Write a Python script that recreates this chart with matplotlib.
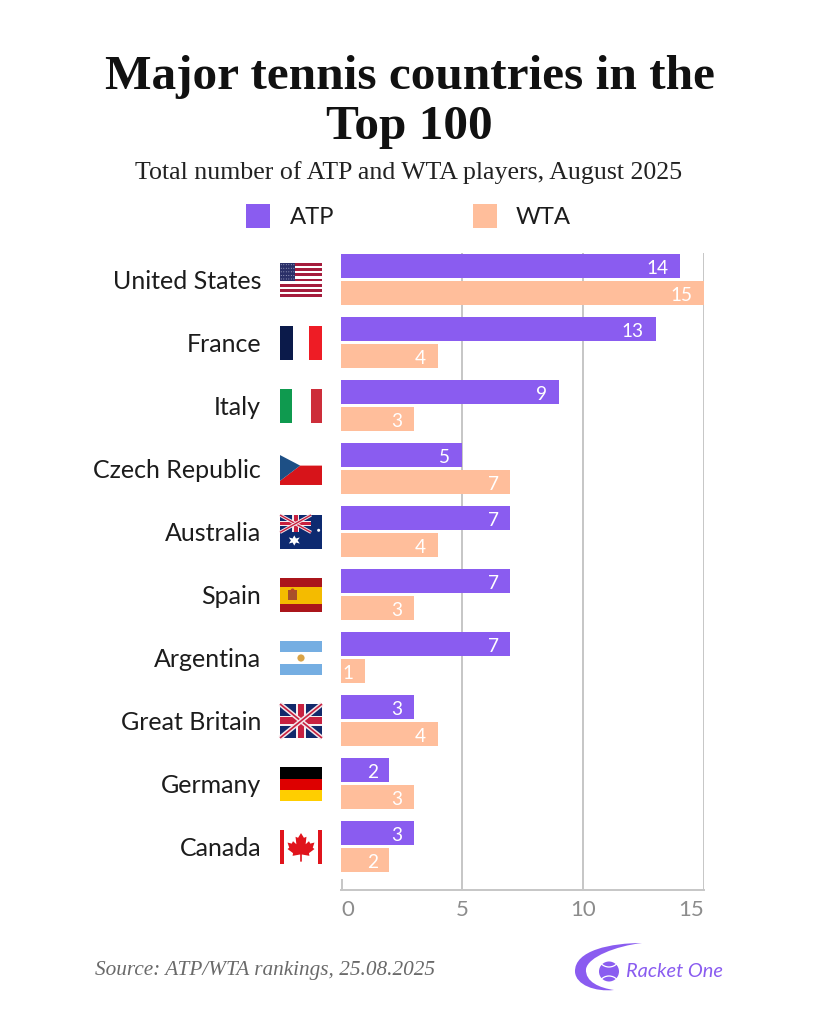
import matplotlib
matplotlib.use("Agg")
import matplotlib.pyplot as plt
from matplotlib.patches import Polygon, Rectangle, Circle, PathPatch, Arc
from matplotlib.path import Path
import numpy as np

countries = ["United States", "France", "Italy", "Czech Republic", "Australia",
             "Spain", "Argentina", "Great Britain", "Germany", "Canada"]
atp = [14, 13, 9, 5, 7, 7, 7, 3, 2, 3]
wta = [15, 4, 3, 7, 4, 3, 1, 4, 3, 2]
x_ticks = [0, 5, 10, 15]

atp_color = "#8a5cf0"
wta_color = "#ffbe9b"
text_color = "#1c1c1c"
line_color = "#c6c6c6"
W, H = 819, 1024
sans = "Lato"
serif = "Liberation Serif"


def add_chart(fig):
    # axes box in pixels: x 341-704, y 253-890
    ax = fig.add_axes([341 / W, 1 - 890 / H, 363 / W, 637 / H])
    y = np.arange(len(countries))
    ax.barh(y - 0.214, atp, height=0.385, color=atp_color, zorder=3)
    ax.barh(y + 0.214, wta, height=0.385, color=wta_color, zorder=3)
    ax.set_xlim(0, 15)
    ax.set_ylim(9.69, -0.42)
    ax.grid(axis="y", visible=False)
    ax.grid(axis="x", color=line_color, lw=1.4, zorder=1)
    ax.set_axisbelow(True)
    for s in ax.spines.values():
        s.set_visible(False)
    ax.spines["bottom"].set_visible(True)
    ax.spines["bottom"].set_color(line_color)
    ax.spines["bottom"].set_linewidth(1.4)
    ax.set_yticks(y)
    ax.set_yticklabels(countries, fontsize=18, color=text_color, family=sans)
    ax.tick_params(axis="y", length=0, pad=57.5)
    ax.set_xticks(x_ticks)
    ax.set_xticklabels([str(t) for t in x_ticks], fontsize=16, color="#8c8c8c", family=sans)
    ax.tick_params(axis="x", length=0, pad=7)
    ax.get_xgridlines()[0].set_visible(False)
    labels = ax.get_xticklabels()
    labels[0].set_ha("left")
    labels[-1].set_ha("right")

    for i in range(len(countries)):
        for vals, off in ((atp, -0.214), (wta, 0.214)):
            ax.annotate(str(vals[i]), (vals[i], i + off), xytext=(-8.5, -0.7),
                        textcoords="offset points", ha="right", va="center_baseline",
                        color="white", fontsize=13.7, family=sans, zorder=4)
    return ax


class Flag:
    # small helper: unit coords inside a 42x34 px flag
    def __init__(self, ov, cy):
        self.ov = ov
        self.x0 = 280
        self.y0 = cy - 17
        self.w = 42
        self.h = 34

    def pts(self, points):
        return [(self.x0 + a * self.w, self.y0 + b * self.h) for a, b in points]

    def rect(self, x, y, w, h, color):
        self.ov.add_patch(Polygon(self.pts([(x, y), (x + w, y), (x + w, y + h), (x, y + h)]),
                                  closed=True, fc=color, ec="none"))

    def poly(self, points, color):
        self.ov.add_patch(Polygon(self.pts(points), closed=True, fc=color, ec="none"))

    def line(self, a, b, color, lw):
        p = self.pts([a, b])
        self.ov.plot([p[0][0], p[1][0]], [p[0][1], p[1][1]], color=color, lw=lw,
                     solid_capstyle="butt")

    def dot(self, x, y, r, color):
        p = self.pts([(x, y)])[0]
        self.ov.add_patch(Circle(p, r, fc=color, ec="none"))


def union_jack(f, x, y, w, h, navy="#12296b", diag=(3.4, 1.2)):
    f.rect(x, y, w, h, navy)
    for a, b in (((x, y), (x + w, y + h)), ((x, y + h), (x + w, y))):
        f.line(a, b, "#f3e6ea", diag[0])
        f.line(a, b, "#c8203f", diag[1])
    f.rect(x + w * 0.39, y, w * 0.22, h, "#f7eef0")
    f.rect(x, y + h * 0.34, w, h * 0.32, "#f7eef0")
    f.rect(x + w * 0.44, y, w * 0.13, h, "#c8203f")
    f.rect(x, y + h * 0.39, w, h * 0.2, "#c8203f")


def draw_flag(name, ov, cy):
    f = Flag(ov, cy)
    if name == "United States":
        for i in range(13):
            f.rect(0, i / 13, 1, 1 / 13, "#a51c3c" if i % 2 == 0 else "white")
        f.rect(0, 0, 0.36, 7 / 13, "#2b3068")
        for r in range(5):
            for c in range(6):
                f.dot(0.03 + c * 0.06, 0.05 + r * 0.105, 0.45, "#c9cbe0")
    elif name == "France":
        f.rect(0, 0, 0.3, 1, "#0b1a4a")
        f.rect(0.7, 0, 0.3, 1, "#ee1c25")
    elif name == "Italy":
        f.rect(0, 0, 0.28, 1, "#0f9a4f")
        f.rect(0.73, 0, 0.27, 1, "#cd2e3a")
    elif name == "Czech Republic":
        f.poly([(0, 0.85), (0.48, 0.4), (1, 0.4), (1, 0.97), (0, 0.97)], "#d7141a")
        f.poly([(0, 0.09), (0.48, 0.4), (0, 0.85)], "#1d4f85")
    elif name == "Australia":
        f.rect(0, 0, 1, 1, "#0d2a70")
        union_jack(f, 0, 0, 0.74, 0.51, "#0d2a70", diag=(2.4, 1.0))
        f.dot(0.92, 0.45, 1.5, "white")
        f.poly([(0.34, 0.6), (0.38, 0.69), (0.47, 0.66), (0.42, 0.75), (0.47, 0.84),
                (0.38, 0.81), (0.34, 0.9), (0.3, 0.81), (0.21, 0.84), (0.26, 0.75),
                (0.21, 0.66), (0.3, 0.69)], "white")
    elif name == "Spain":
        f.rect(0, 0, 1, 1, "#f4bb00")
        f.rect(0, 0, 1, 0.25, "#aa151b")
        f.rect(0, 0.75, 1, 0.25, "#aa151b")
        f.rect(0.2, 0.36, 0.2, 0.3, "#a8502a")
        f.dot(0.3, 0.36, 1.8, "#b5472a")
    elif name == "Argentina":
        f.rect(0, 0, 1, 0.33, "#75aee2")
        f.rect(0, 0.67, 1, 0.33, "#75aee2")
        f.dot(0.5, 0.5, 3.6, "#d9a347")
    elif name == "Great Britain":
        union_jack(f, 0, 0, 1, 1)
    elif name == "Germany":
        f.rect(0, 0, 1, 0.34, "#000000")
        f.rect(0, 0.34, 1, 0.33, "#dd0000")
        f.rect(0, 0.67, 1, 0.33, "#ffce00")
    elif name == "Canada":
        f.rect(0, 0, 0.1, 1, "#e0141c")
        f.rect(0.9, 0, 0.1, 1, "#e0141c")
        leaf = [(0.5, 0.09), (0.57, 0.23), (0.63, 0.2), (0.61, 0.42), (0.69, 0.33), (0.72, 0.4),
                (0.82, 0.37), (0.78, 0.52), (0.82, 0.56), (0.69, 0.68), (0.7, 0.76),
                (0.52, 0.72), (0.52, 0.93), (0.48, 0.93), (0.48, 0.72), (0.3, 0.76),
                (0.31, 0.68), (0.18, 0.56), (0.22, 0.52), (0.18, 0.37), (0.28, 0.4),
                (0.31, 0.33), (0.39, 0.42), (0.37, 0.2), (0.43, 0.23)]
        f.poly(leaf, "#e0141c")


def draw_logo(ov):
    c = Path.CURVE4
    verts = [(642, 943), (612, 943), (574, 950), (575, 972),
             (576, 985), (595, 992), (614, 990),
             (600, 988), (585, 982), (586, 969),
             (588, 957), (616, 946), (642, 943)]
    codes = [Path.MOVETO, c, c, c, c, c, c, c, c, c, c, c, c]
    ov.add_patch(PathPatch(Path(verts, codes), fc=atp_color, ec="none"))
    ov.add_patch(Circle((609, 971.5), 10, fc=atp_color, ec="none"))
    ov.add_patch(Arc((609, 956), 22, 22, theta1=40, theta2=140, ec="white", lw=0.9))
    ov.add_patch(Arc((609, 987), 22, 22, theta1=220, theta2=320, ec="white", lw=0.9))
    ov.text(626, 971.5, "Racket One", fontsize=14.4, style="italic", color=atp_color,
            family=sans, ha="left", va="center")


def main():
    fig = plt.figure(figsize=(W / 100, H / 100), dpi=100, facecolor="white")
    add_chart(fig)

    # overlay in pixel coords for the title block, legend, flags, logo
    ov = fig.add_axes([0, 0, 1, 1], zorder=5)
    ov.set_xlim(0, W)
    ov.set_ylim(H, 0)
    ov.axis("off")
    ov.patch.set_alpha(0)

    ov.text(409.5, 77, "Major tennis countries in the", fontsize=35.5, fontweight="bold",
            family=serif, color="#111111", ha="center", va="center")
    ov.text(409.5, 127, "Top 100", fontsize=35.5, fontweight="bold",
            family=serif, color="#111111", ha="center", va="center")
    ov.text(409, 173, "Total number of ATP and WTA players, August 2025", fontsize=18.6,
            family=serif, color="#222222", ha="center", va="center")

    ov.add_patch(Rectangle((246, 204), 24, 24, fc=atp_color, ec="none"))
    ov.text(289.5, 217, "ATP", fontsize=17.2, family=sans, color=text_color, va="center")
    ov.add_patch(Rectangle((473, 204), 24, 24, fc=wta_color, ec="none"))
    ov.text(516, 217, "WTA", fontsize=17.2, family=sans, color=text_color, va="center")

    for i, name in enumerate(countries):
        draw_flag(name, ov, 280 + i * 63)

    # short stub of the zero line, only above the bottom axis
    ov.plot([341.5, 341.5], [880, 890], color=line_color, lw=1.4)

    ov.text(95, 970.5, "Source: ATP/WTA rankings, 25.08.2025", fontsize=15.3, style="italic",
            family=serif, color="#6a6a6a", va="center")
    draw_logo(ov)

    fig.savefig("out.png", dpi=100, facecolor="white")
    plt.close(fig)


if __name__ == "__main__":
    main()
